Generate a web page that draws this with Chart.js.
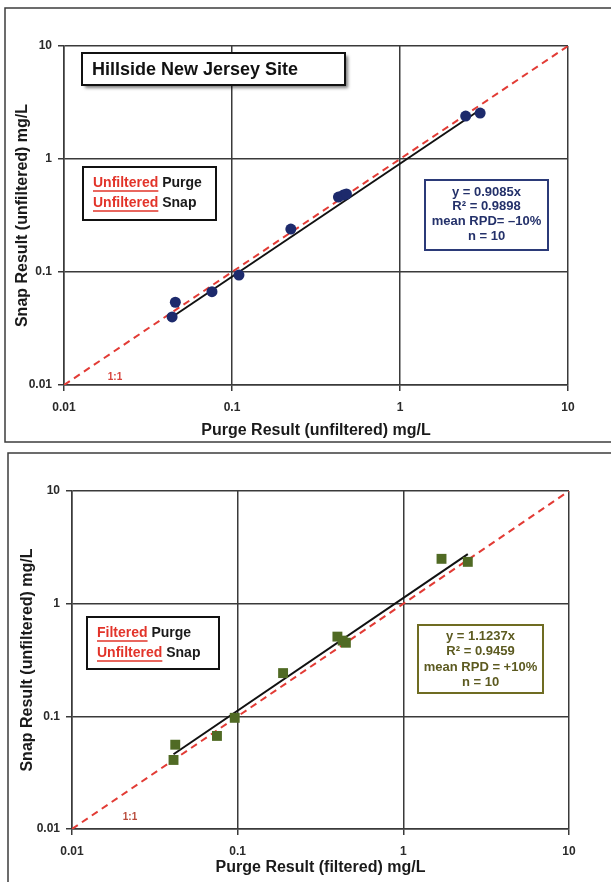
<!DOCTYPE html>
<html>
<head>
<meta charset="utf-8">
<script src="https://cdn.jsdelivr.net/npm/chart.js@4"></script>
<style>
    body { margin: 0; background: #fff; }
    #wrap { position: relative; width: 611px; height: 882px; overflow: hidden; }
    canvas { position: absolute; left: 0; }
    #c1 { top: 0; }
    #c2 { top: 447px; }
</style>
</head>
<body>
<div id="wrap">
    <canvas id="c1" width="611" height="447"></canvas>
    <canvas id="c2" width="611" height="435"></canvas>
</div>
<script>
// values (mg/L)
var axisTicks = [0.01, 0.1, 1, 10];

var unfPurge = [0.044, 0.046, 0.076, 0.11, 0.224, 0.43, 0.46, 0.48, 2.46, 3.0];
var unfSnap = [0.040, 0.054, 0.067, 0.094, 0.24, 0.46, 0.48, 0.49, 2.4, 2.55];
var unfSlope = 0.9085;

var filtPurge = [0.041, 0.042, 0.075, 0.096, 0.188, 0.40, 0.43, 0.45, 1.7, 2.45];
var filtSnap = [0.041, 0.056, 0.067, 0.097, 0.242, 0.51, 0.47, 0.45, 2.5, 2.35];
var filtSlope = 1.1237;

var FONT = "'Liberation Sans', Arial, sans-serif";

function pairs(xs, ys) {
    return xs.map(function (x, i) { return { x: x, y: ys[i] }; });
}

function trend(xs, slope) {
    var lo = Math.min.apply(null, xs), hi = Math.max.apply(null, xs);
    return [{ x: lo, y: slope * lo }, { x: hi, y: slope * hi }];
}

// boxes, frame and the small 1:1 tag
var decor = {
    id: 'decor',
    afterDraw: function (chart, args, o) {
        var ctx = chart.ctx;
        ctx.save();

        ctx.strokeStyle = '#3c3c3c';
        ctx.lineWidth = 1.5;
        ctx.strokeRect(o.frame[0], o.frame[1], o.frame[2], o.frame[3]);

        if (o.site) {
            var s = o.site;
            ctx.save();
            ctx.shadowColor = 'rgba(0,0,0,0.5)';
            ctx.shadowOffsetX = 3;
            ctx.shadowOffsetY = 3;
            ctx.shadowBlur = 3;
            ctx.fillStyle = '#fff';
            ctx.fillRect(s.x, s.y, s.w, s.h);
            ctx.restore();
            ctx.strokeStyle = '#111';
            ctx.lineWidth = 2;
            ctx.strokeRect(s.x, s.y, s.w, s.h);
            ctx.fillStyle = '#111';
            ctx.font = 'bold 18px ' + FONT;
            ctx.textBaseline = 'middle';
            ctx.textAlign = 'left';
            ctx.fillText(s.text, s.x + 10, s.y + s.h / 2 + 1);
        }

        // legend box
        var L = o.legend;
        ctx.fillStyle = '#fff';
        ctx.fillRect(L.x, L.y, L.w, L.h);
        ctx.strokeStyle = '#111';
        ctx.lineWidth = 2;
        ctx.strokeRect(L.x, L.y, L.w, L.h);
        ctx.font = 'bold 14px ' + FONT;
        ctx.textBaseline = 'middle';
        ctx.textAlign = 'left';
        L.rows.forEach(function (r, i) {
            var y = L.y + L.first + i * L.gap;
            ctx.fillStyle = '#e2342a';
            ctx.fillText(r[0], L.x + L.pad, y);
            var w = ctx.measureText(r[0]).width;
            ctx.strokeStyle = '#e2342a';
            ctx.lineWidth = 1.5;
            ctx.beginPath();
            ctx.moveTo(L.x + L.pad, y + 8);
            ctx.lineTo(L.x + L.pad + w, y + 8);
            ctx.stroke();
            ctx.fillStyle = '#1a1a1a';
            ctx.fillText(' ' + r[1], L.x + L.pad + w, y);
        });

        // regression stats box
        var S = o.stats;
        ctx.fillStyle = '#fff';
        ctx.fillRect(S.x, S.y, S.w, S.h);
        ctx.strokeStyle = S.border;
        ctx.lineWidth = 2;
        ctx.strokeRect(S.x, S.y, S.w, S.h);
        ctx.fillStyle = S.color;
        ctx.font = 'bold 13px ' + FONT;
        ctx.textAlign = 'center';
        S.lines.forEach(function (t, i) {
            ctx.fillText(t, S.x + S.w / 2, S.y + S.first + i * S.gap);
        });

        ctx.fillStyle = o.tag.color;
        ctx.font = 'bold 10px ' + FONT;
        ctx.fillText('1:1', o.tag.x, o.tag.y);

        ctx.restore();
    }
};

function logAxis(titleText, titlePad, fitSize, isX, tickPad) {
    return {
        type: 'logarithmic',
        min: axisTicks[0],
        max: axisTicks[axisTicks.length - 1],
        afterBuildTicks: function (s) {
            s.ticks = axisTicks.map(function (v) { return { value: v }; });
        },
        afterFit: function (s) {
            if (isX) s.height = fitSize; else s.width = fitSize;
        },
        grid: {
            color: '#3a3a3a',
            lineWidth: 1.5,
            tickLength: 6,
            tickColor: '#3a3a3a'
        },
        border: { color: '#3a3a3a', width: 1.5 },
        ticks: {
            color: '#2a2a2a',
            padding: tickPad,
            autoSkip: false,
            maxRotation: 0,
            font: { family: FONT, size: 12, weight: 'bold' },
            callback: function (v) { return String(v); }
        },
        title: {
            display: true,
            text: titleText,
            color: '#1a1a1a',
            padding: titlePad,
            font: { family: FONT, size: 16, weight: 'bold' }
        }
    };
}

function makeChart(id, purge, snap, slope, pt, layout, deco) {
    var config = {
        type: 'scatter',
        data: {
            datasets: [{
                    data: pairs(purge, snap),
                    pointStyle: pt.style,
                    pointRadius: pt.radius,
                    backgroundColor: pt.color,
                    borderColor: pt.color,
                    borderWidth: 0
                },
                {
                    data: trend(purge, slope),
                    showLine: true,
                    borderColor: '#111',
                    borderWidth: 2,
                    pointRadius: 0
                },
                {
                    data: [{ x: axisTicks[0], y: axisTicks[0] }, { x: axisTicks[3], y: axisTicks[3] }],
                    showLine: true,
                    borderColor: '#e23b35',
                    borderWidth: 2,
                    borderDash: [7, 5],
                    pointRadius: 0
                }
            ]
        },
        options: {
            responsive: false,
            animation: false,
            layout: { padding: { left: 0, top: layout.top, right: layout.right, bottom: 0 } },
            plugins: {
                legend: { display: false },
                tooltip: { enabled: false },
                decor: deco
            },
            scales: {
                x: logAxis(layout.xTitle, { top: 0, bottom: layout.xTitlePad }, layout.xFit, true, 9),
                y: logAxis('Snap Result (unfiltered) mg/L', { top: layout.yTitlePad, bottom: 0 }, layout.yFit, false, 6)
            }
        },
        plugins: [decor]
    };
    return new Chart(document.getElementById(id), config);
}

//unfiltered purge vs unfiltered snap

var chart1 = makeChart('c1', unfPurge, unfSnap, unfSlope,
    { style: 'circle', radius: 5.5, color: '#1d2a6c' },
    { top: 46, right: 43, xFit: 62, yFit: 64, xTitle: 'Purge Result (unfiltered) mg/L', xTitlePad: 6.5, yTitlePad: 13 },
    {
        frame: [5, 8, 700, 434],
        site: { x: 82, y: 53, w: 263, h: 32, text: 'Hillside New Jersey Site' },
        legend: { x: 83, y: 167, w: 133, h: 53, pad: 10, first: 16, gap: 20,
            rows: [['Unfiltered', 'Purge'], ['Unfiltered', 'Snap']] },
        stats: { x: 425, y: 180, w: 123, h: 70, first: 12, gap: 14.7, border: '#2b3a78', color: '#24316a',
            lines: ['y = 0.9085x', 'R\u00b2 = 0.9898', 'mean RPD= \u201310%', 'n = 10'] },
        tag: { x: 115, y: 377, color: '#d8413a' }
    });

//filtered purge vs unfiltered snap

var chart2 = makeChart('c2', filtPurge, filtSnap, filtSlope,
    { style: 'rect', radius: 7, color: '#506a24' },
    { top: 44, right: 42, xFit: 53, yFit: 72, xTitle: 'Purge Result (filtered) mg/L', xTitlePad: 4.5, yTitlePad: 18 },
    {
        frame: [8, 6, 700, 600],
        legend: { x: 87, y: 170, w: 132, h: 52, pad: 10, first: 16, gap: 20,
            rows: [['Filtered', 'Purge'], ['Unfiltered', 'Snap']] },
        stats: { x: 418, y: 178, w: 125, h: 68, first: 11, gap: 15.5, border: '#6f6c22', color: '#5c5a20',
            lines: ['y = 1.1237x', 'R\u00b2 = 0.9459', 'mean RPD = +10%', 'n = 10'] },
        tag: { x: 130, y: 370, color: '#b84a3a' }
    });
</script>
</body>
</html>
